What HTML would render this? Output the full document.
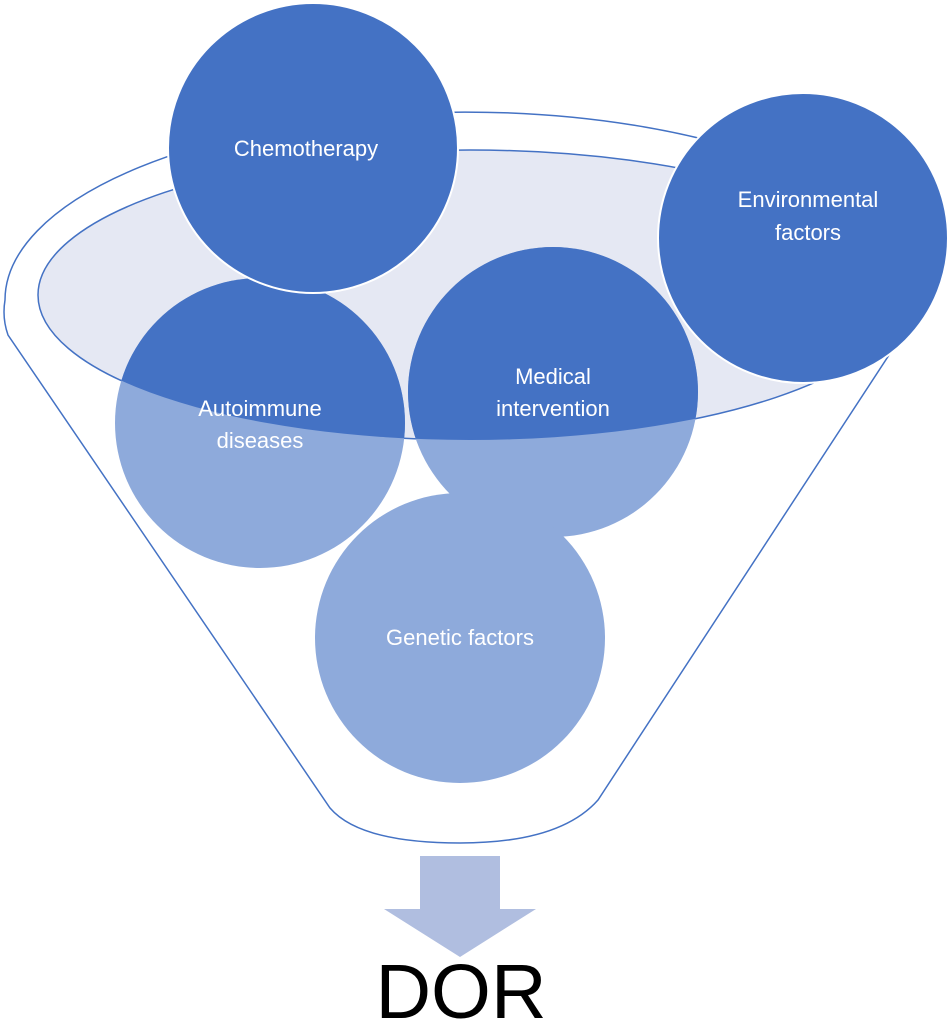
<!DOCTYPE html>
<html><head><style>body{margin:0;background:#fff}svg{display:block}</style></head>
<body>
<svg width="951" height="1024" viewBox="0 0 951 1024" xmlns="http://www.w3.org/2000/svg" font-family="Liberation Sans, sans-serif">
<defs>
<clipPath id="el"><ellipse cx="470" cy="295" rx="432" ry="145"/></clipPath>
</defs>
<path d="M 8,335 Q 2,318 5,300 A 460 188 0 0 1 925,300 L 598,800 Q 560,843 460,843 Q 360,843 330,808 Z" fill="#fff" stroke="#4472c4" stroke-width="1.5"/>
<ellipse cx="470" cy="295" rx="432" ry="145" fill="#e5e8f3" stroke="#4472c4" stroke-width="1.5"/>
<g fill="#8eaadb">
<circle cx="260" cy="423" r="145"/>
<circle cx="553" cy="392" r="145"/>
<circle cx="460" cy="638" r="145"/>
</g>
<g fill="#4472c4" clip-path="url(#el)">
<circle cx="260" cy="423" r="145"/>
<circle cx="553" cy="392" r="145"/>
</g>
<circle cx="313" cy="148" r="145" fill="#4472c4" stroke="#fff" stroke-width="2"/>
<circle cx="803" cy="238" r="145" fill="#4472c4" stroke="#fff" stroke-width="2"/>
<g fill="#fff" font-size="22" text-anchor="middle">
<text x="306" y="156">Chemotherapy</text>
<text x="808" y="207">Environmental</text>
<text x="808" y="240">factors</text>
<text x="260" y="416">Autoimmune</text>
<text x="260" y="448">diseases</text>
<text x="553" y="384">Medical</text>
<text x="553" y="416">intervention</text>
<text x="460" y="645">Genetic factors</text>
</g>
<polygon points="420,856 500,856 500,909 536,909 460,957 384,909 420,909" fill="#b0bee0"/>
<text x="461" y="1018" font-size="77" text-anchor="middle" fill="#000">DOR</text>
</svg>
</body></html>
